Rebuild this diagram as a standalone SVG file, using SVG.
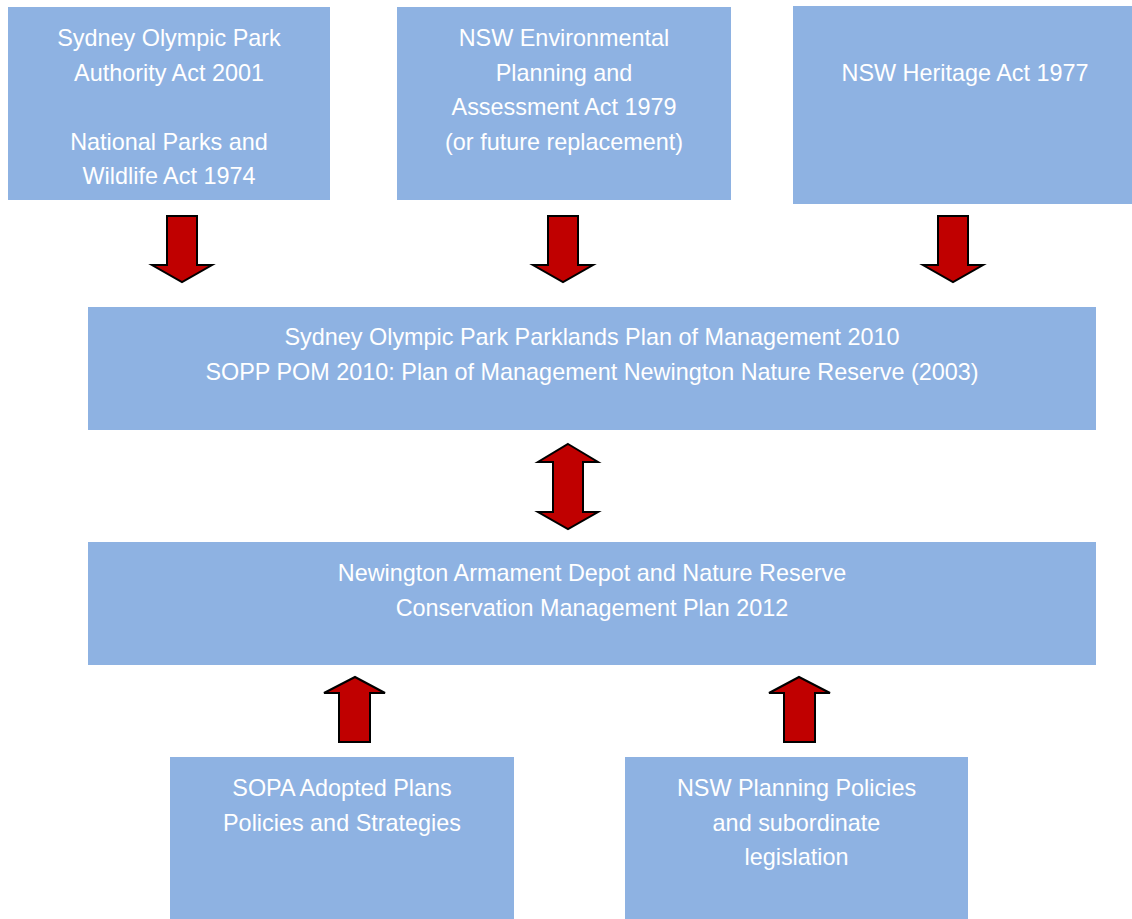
<svg xmlns="http://www.w3.org/2000/svg" width="1132" height="919" viewBox="0 0 1132 919">
<style>
.box{fill:#8EB2E2}
.t{font-family:"Liberation Sans",Arial,Helvetica,sans-serif;font-size:23.4px;fill:#FFFFFF;text-anchor:middle}
.arr{fill:#C00000;stroke:#000000;stroke-width:2;stroke-linejoin:miter}
</style>
<rect width="1132" height="919" fill="#FFFFFF"/>
<g id="node-sopa-act">
<rect class="box" x="8" y="7" width="322" height="193"/>
<text class="t" x="169" y="46">Sydney Olympic Park</text>
<text class="t" x="169" y="80.5">Authority Act 2001</text>
<text class="t" x="169" y="149.5">National Parks and</text>
<text class="t" x="169" y="184">Wildlife Act 1974</text>
</g>
<g id="node-epa-act">
<rect class="box" x="397" y="7" width="334" height="193"/>
<text class="t" x="564" y="46">NSW Environmental</text>
<text class="t" x="564" y="80.5">Planning and</text>
<text class="t" x="564" y="115">Assessment Act 1979</text>
<text class="t" x="564" y="149.5">(or future replacement)</text>
</g>
<g id="node-heritage-act">
<rect class="box" x="793" y="6" width="339" height="198"/>
<text class="t" x="965" y="81">NSW Heritage Act 1977</text>
</g>
<g id="node-pom">
<rect class="box" x="88" y="307" width="1008" height="123"/>
<text class="t" x="592" y="345">Sydney Olympic Park Parklands Plan of Management 2010</text>
<text class="t" x="592" y="380">SOPP POM 2010: Plan of Management Newington Nature Reserve (2003)</text>
</g>
<g id="node-cmp">
<rect class="box" x="88" y="542" width="1008" height="123"/>
<text class="t" x="592" y="581">Newington Armament Depot and Nature Reserve</text>
<text class="t" x="592" y="615.5">Conservation Management Plan 2012</text>
</g>
<g id="node-sopa-plans">
<rect class="box" x="170" y="757" width="344" height="162"/>
<text class="t" x="342" y="796">SOPA Adopted Plans</text>
<text class="t" x="342" y="830.5">Policies and Strategies</text>
</g>
<g id="node-nsw-policies">
<rect class="box" x="625" y="757" width="343" height="162"/>
<text class="t" x="796.5" y="796">NSW Planning Policies</text>
<text class="t" x="796.5" y="830.5">and subordinate</text>
<text class="t" x="796.5" y="865">legislation</text>
</g>
<g id="connectors">
<polygon class="arr" points="167,216 197,216 197,265 212,265 182,282 152,265 167,265"/>
<polygon class="arr" points="548,216 578,216 578,265 593,265 563,282 533,265 548,265"/>
<polygon class="arr" points="938,216 968,216 968,265 983,265 953,282 923,265 938,265"/>
<polygon class="arr" points="568,444 598,462 583,462 583,512 598,512 568,529 538,512 553,512 553,462 538,462"/>
<polygon class="arr" points="355,677 385,693 370,693 370,742 339,742 339,693 324,693"/>
<polygon class="arr" points="799,677 830,693 815,693 815,742 784,742 784,693 769,693"/>
</g>
</svg>
